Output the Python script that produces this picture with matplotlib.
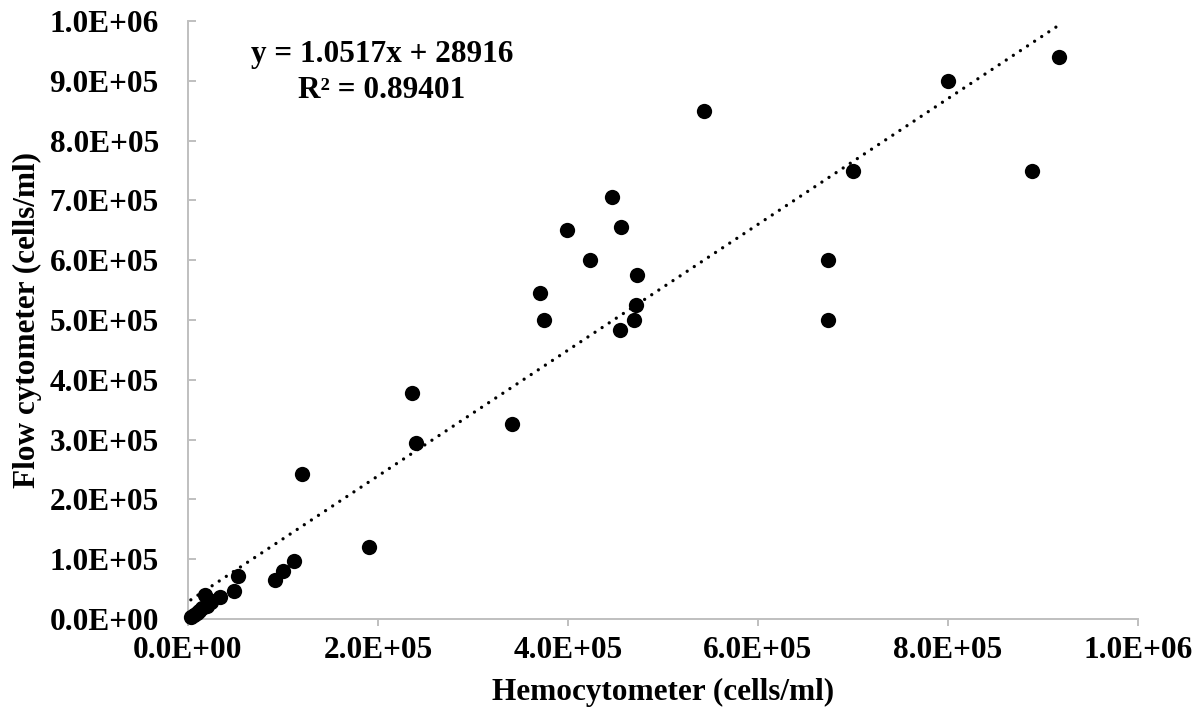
import matplotlib
matplotlib.use("Agg")
import matplotlib.pyplot as plt
from matplotlib.ticker import FuncFormatter, MultipleLocator

# Data (cells/ml)
hemocytometer = [3e3, 6e3, 9e3, 1.2e4, 1.5e4, 2.0e4, 2.4e4, 2.2e4, 1.8e4, 3.4e4,
                 4.8e4, 5.3e4, 9.2e4, 1.0e5, 1.12e5, 1.2e5, 1.9e5, 2.36e5, 2.4e5,
                 3.41e5, 3.70e5, 3.75e5, 3.99e5, 4.23e5, 4.46e5, 4.55e5, 4.56e5,
                 4.69e5, 4.72e5, 4.73e5, 5.43e5, 6.74e5, 6.74e5, 7.0e5, 8.0e5,
                 8.88e5, 9.17e5]
flow_cytometer = [4e3, 7e3, 1.0e4, 1.4e4, 1.8e4, 2.2e4, 2.8e4, 3.2e4, 4.0e4, 3.7e4,
                  4.6e4, 7.2e4, 6.6e4, 8.1e4, 9.7e4, 2.42e5, 1.2e5, 3.78e5, 2.95e5,
                  3.26e5, 5.45e5, 5.0e5, 6.5e5, 6.0e5, 7.05e5, 4.84e5, 6.55e5,
                  5.0e5, 5.25e5, 5.75e5, 8.5e5, 6.0e5, 5.0e5, 7.5e5, 9.0e5,
                  7.5e5, 9.4e5]

slope = 1.0517
intercept = 28916
r_squared = 0.89401

x_label = "Hemocytometer (cells/ml)"
y_label = "Flow cytometer (cells/ml)"

plt.rcParams['font.family'] = ['Liberation Serif', 'DejaVu Serif']
plt.rcParams['font.weight'] = 'bold'

W, H = 1198, 714
fig = plt.figure(figsize=(W / 100, H / 100), dpi=100)
ax = fig.add_axes([188 / W, 1 - 619 / H, (1138 - 188) / W, (619 - 21) / H])

ax.plot(hemocytometer, flow_cytometer, 'o', color='black', markersize=11,
        markeredgewidth=0, clip_on=False, zorder=3)

xmin, xmax = min(hemocytometer), max(hemocytometer)
ax.plot([xmin, xmax], [slope * xmin + intercept, slope * xmax + intercept],
        color='black', linewidth=2.4, linestyle=(0, (0.001, 2.55)),
        dash_capstyle='round', clip_on=False, zorder=2)

ax.set_xlim(0, 1e6)
ax.set_ylim(0, 1e6)
ax.xaxis.set_major_locator(MultipleLocator(2e5))
ax.yaxis.set_major_locator(MultipleLocator(1e5))
fmt = FuncFormatter(lambda v, p: "{:.1E}".format(v))
ax.xaxis.set_major_formatter(fmt)
ax.yaxis.set_major_formatter(fmt)

for s in ['top', 'right']:
    ax.spines[s].set_visible(False)
for s in ['left', 'bottom']:
    ax.spines[s].set_color('#bfbfbf')
    ax.spines[s].set_linewidth(1.4)

ax.tick_params(axis='x', direction='out', length=5, width=1.4, color='#bfbfbf',
               pad=7, labelsize=22.5)
ax.tick_params(axis='y', direction='in', length=6, width=1.4, color='#bfbfbf',
               pad=21, labelsize=22.5)
for lab in ax.get_xticklabels() + ax.get_yticklabels():
    lab.set_fontweight('bold')

fig.text(663 / W, 1 - 692 / H, x_label, ha='center', va='center',
         fontsize=22.5, fontweight='bold')
fig.text(27 / W, 1 - 320 / H, y_label, ha='center', va='center',
         rotation=90, fontsize=22.5, fontweight='bold')

fig.text(382 / W, 1 - 62 / H, "y = {:.4f}x + {}".format(slope, intercept),
         ha='center', va='baseline', fontsize=22.5, fontweight='bold')
fig.text(382 / W, 1 - 98 / H, "R² = {:.5f}".format(r_squared),
         ha='center', va='baseline', fontsize=22.5, fontweight='bold')

fig.savefig("out.png", dpi=100)
